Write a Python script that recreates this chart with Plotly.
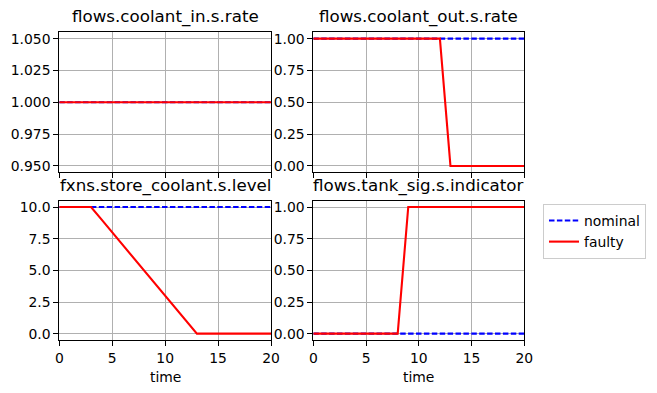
import plotly.graph_objects as go

time = list(range(21))

titles = ["flows.coolant_in.s.rate", "flows.coolant_out.s.rate",
          "fxns.store_coolant.s.level", "flows.tank_sig.s.indicator"]

coolant_in_nominal = [1.0] * 21
coolant_in_faulty = [1.0] * 21

coolant_out_nominal = [1.0] * 21
coolant_out_faulty = [1, 1, 1, 1, 1, 1, 1, 1, 1, 1, 1, 1, 1, 0, 0, 0, 0, 0, 0, 0, 0]

level_nominal = [10.0] * 21
level_faulty = [10, 10, 10, 10, 9, 8, 7, 6, 5, 4, 3, 2, 1, 0, 0, 0, 0, 0, 0, 0, 0]

indicator_nominal = [0.0] * 21
indicator_faulty = [0, 0, 0, 0, 0, 0, 0, 0, 0, 1, 1, 1, 1, 1, 1, 1, 1, 1, 1, 1, 1]

x_ticks = [0, 5, 10, 15, 20]

W, H = 657, 393
FONT = "DejaVu Sans"
TICK = 13.9
TITLE = 16.7

series = [
    (coolant_in_nominal, coolant_in_faulty, [0.945, 1.055], [0.950, 0.975, 1.000, 1.025, 1.050], ".3f"),
    (coolant_out_nominal, coolant_out_faulty, [-0.05, 1.05], [0, 0.25, 0.5, 0.75, 1.0], ".2f"),
    (level_nominal, level_faulty, [-0.5, 10.5], [0, 2.5, 5, 7.5, 10], ".1f"),
    (indicator_nominal, indicator_faulty, [-0.05, 1.05], [0, 0.25, 0.5, 0.75, 1.0], ".2f"),
]

# axes boxes in pixels (left, right, top, bottom)
boxes = [
    (59.3, 271.0, 32.3, 172.3),
    (313.3, 524.3, 32.3, 172.3),
    (59.3, 271.0, 200.7, 340.0),
    (313.3, 524.3, 200.7, 340.0),
]

fig = go.Figure()
layout = {}
annotations = []
for i, ((nom, fau, yr, yt, fmt), (l, r, t, b)) in enumerate(zip(series, boxes)):
    n = "" if i == 0 else str(i + 1)
    xa, ya = "x" + n, "y" + n
    fig.add_trace(go.Scatter(x=time, y=nom, mode="lines", name="nominal",
                             line=dict(color="blue", width=2.1, dash="5.5px,2.4px"),
                             xaxis=xa, yaxis=ya, showlegend=(i == 0), legendrank=1))
    fig.add_trace(go.Scatter(x=time, y=fau, mode="lines", name="faulty",
                             line=dict(color="red", width=2.1),
                             xaxis=xa, yaxis=ya, showlegend=(i == 0), legendrank=2))
    bottom_row = i >= 2
    layout["xaxis" + n] = dict(
        domain=[l / W, r / W], anchor=ya, range=[0, 20], tickvals=x_ticks,
        showticklabels=bottom_row, ticks="outside", ticklen=4.9, tickwidth=1.1,
        tickcolor="black", showline=True, linecolor="black", linewidth=1.1, mirror=True,
        showgrid=True, gridcolor="#b0b0b0", gridwidth=1.1, zeroline=False, automargin=False,
        tickfont=dict(family=FONT, size=TICK, color="black"),
    )
    layout["yaxis" + n] = dict(
        domain=[1 - b / H, 1 - t / H], anchor=xa, range=yr, tickvals=yt, tickformat=fmt,
        ticks="outside", ticklen=4.9, tickwidth=1.1, tickcolor="black",
        showline=True, linecolor="black", linewidth=1.1, mirror=True, automargin=False,
        showgrid=True, gridcolor="#b0b0b0", gridwidth=1.1, zeroline=False,
        tickfont=dict(family=FONT, size=TICK, color="black"),
    )
    annotations.append(dict(text=titles[i], xref=xa + " domain", yref=ya + " domain",
                            x=0.5, y=1, xanchor="center", yanchor="bottom", yshift=3,
                            showarrow=False, font=dict(family=FONT, size=TITLE, color="black")))
    if bottom_row:
        annotations.append(dict(text="time", xref=xa + " domain", yref=ya + " domain",
                                x=0.5, y=0, xanchor="center", yanchor="top", yshift=-27,
                                showarrow=False, font=dict(family=FONT, size=TICK, color="black")))

fig.update_layout(
    template="none",
    width=W, height=H, margin=dict(l=0, r=0, t=0, b=0, autoexpand=False),
    paper_bgcolor="white", plot_bgcolor="white",
    annotations=annotations,
    legend=dict(x=543 / W, y=1 - 204 / H, xanchor="left", yanchor="top",
                bordercolor="#cccccc", borderwidth=1, bgcolor="white",
                font=dict(family=FONT, size=TICK, color="black"),
                tracegroupgap=0, itemwidth=30),
    **layout,
)

fig.write_html("out.html", config={"displayModeBar": False},
               post_script="document.body.style.margin='0';document.body.style.padding='0';")
